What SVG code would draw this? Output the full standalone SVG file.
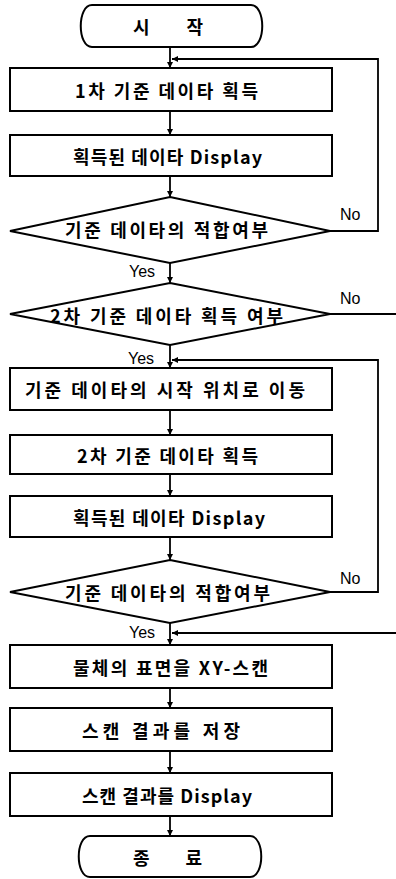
<svg xmlns="http://www.w3.org/2000/svg" width="396" height="879" viewBox="0 0 396 879">
<style>
.shape{fill:#fff;stroke:#000;stroke-width:2}
.kr{font-family:"Noto Sans CJK KR","Noto Sans",sans-serif;font-size:18px;font-weight:bold;fill:#000;dominant-baseline:central}
.lbl{font-family:"Liberation Sans",Arial,sans-serif;font-size:16px;fill:#000}
.edge{fill:none;stroke:#000;stroke-width:1.8}
</style>
<defs>
<marker id="ah" viewBox="0 0 10 10" refX="10" refY="5" markerWidth="6" markerHeight="6" markerUnits="userSpaceOnUse" orient="auto">
<path d="M0,0 L10,5 L0,10 Z" fill="#000"/>
</marker>
</defs>
<rect width="396" height="879" fill="#fff"/>
<g id="connectors">
<line class="edge" x1="170" y1="47" x2="170" y2="68" marker-end="url(#ah)"/>
<polyline class="edge" points="330,231 378,231 378,59 172,59" marker-end="url(#ah)"/>
<line class="edge" x1="170" y1="111" x2="170" y2="135" marker-end="url(#ah)"/>
<line class="edge" x1="170" y1="176" x2="170" y2="197" marker-end="url(#ah)"/>
<line class="edge" x1="170" y1="263" x2="170" y2="283" marker-end="url(#ah)"/>
<line class="edge" x1="330" y1="314" x2="396" y2="314"/>
<line class="edge" x1="170" y1="345" x2="170" y2="368" marker-end="url(#ah)"/>
<polyline class="edge" points="330,592 378,592 378,360 172,360" marker-end="url(#ah)"/>
<line class="edge" x1="170" y1="410" x2="170" y2="435" marker-end="url(#ah)"/>
<line class="edge" x1="170" y1="474" x2="170" y2="496" marker-end="url(#ah)"/>
<line class="edge" x1="170" y1="537" x2="170" y2="560" marker-end="url(#ah)"/>
<line class="edge" x1="170" y1="623" x2="170" y2="645" marker-end="url(#ah)"/>
<line class="edge" x1="396" y1="633" x2="172" y2="633" marker-end="url(#ah)"/>
<line class="edge" x1="170" y1="688" x2="170" y2="708" marker-end="url(#ah)"/>
<line class="edge" x1="170" y1="751" x2="170" y2="773" marker-end="url(#ah)"/>
<line class="edge" x1="170" y1="816" x2="170" y2="836" marker-end="url(#ah)"/>
<text class="lbl" x="340" y="220">No</text>
<text class="lbl" x="129" y="277">Yes</text>
<text class="lbl" x="340" y="304">No</text>
<text class="lbl" x="128" y="364">Yes</text>
<text class="lbl" x="340" y="584">No</text>
<text class="lbl" x="129" y="638">Yes</text>
</g>
<g id="start">
<path class="shape" d="M92,5 H251 C266,5 266,47 251,47 H92 C77,47 77,5 92,5 Z"/>
<text class="kr" x="133" y="26" textLength="70" lengthAdjust="spacing">시   작</text>
</g>
<g id="box1">
<rect class="shape" x="10" y="68" width="322" height="43"/>
<text class="kr" x="75" y="90" textLength="183" lengthAdjust="spacing">1차 기준 데이타 획득</text>
</g>
<g id="box2">
<rect class="shape" x="10" y="135" width="322" height="41"/>
<text class="kr" x="73" y="156" textLength="189" lengthAdjust="spacing">획득된 데이타 Display</text>
</g>
<g id="decision1">
<polygon class="shape" points="170,197 330,231 170,263 10,231"/>
<text class="kr" x="65" y="229" textLength="203" lengthAdjust="spacing">기준 데이타의 적합여부</text>
</g>
<g id="decision2">
<polygon class="shape" points="170,283 330,314 170,345 10,314"/>
<text class="kr" x="50" y="315" textLength="233" lengthAdjust="spacing">2차 기준 데이타 획득 여부</text>
</g>
<g id="box3">
<rect class="shape" x="10" y="368" width="322" height="42"/>
<text class="kr" x="25" y="389" textLength="280" lengthAdjust="spacing">기준 데이타의 시작 위치로 이동</text>
</g>
<g id="box4">
<rect class="shape" x="10" y="435" width="322" height="39"/>
<text class="kr" x="77" y="455" textLength="181" lengthAdjust="spacing">2차 기준 데이타 획득</text>
</g>
<g id="box5">
<rect class="shape" x="10" y="496" width="322" height="41"/>
<text class="kr" x="73" y="517" textLength="192" lengthAdjust="spacing">획득된 데이타 Display</text>
</g>
<g id="decision3">
<polygon class="shape" points="170,560 330,592 170,623 10,592"/>
<text class="kr" x="65" y="592" textLength="205" lengthAdjust="spacing">기준 데이타의 적합여부</text>
</g>
<g id="box6">
<rect class="shape" x="10" y="645" width="322" height="43"/>
<text class="kr" x="73" y="667" textLength="195" lengthAdjust="spacing">물체의 표면을 XY-스캔</text>
</g>
<g id="box7">
<rect class="shape" x="10" y="708" width="322" height="43"/>
<text class="kr" x="82" y="730" textLength="158" lengthAdjust="spacing">스캔 결과를 저장</text>
</g>
<g id="box8">
<rect class="shape" x="10" y="773" width="322" height="43"/>
<text class="kr" x="82" y="795" textLength="170" lengthAdjust="spacing">스캔 결과를 Display</text>
</g>
<g id="end">
<path class="shape" d="M90,836 H250 C265,836 265,877 250,877 H90 C75,877 75,836 90,836 Z"/>
<text class="kr" x="133" y="857" textLength="69" lengthAdjust="spacing">종   료</text>
</g>
</svg>
